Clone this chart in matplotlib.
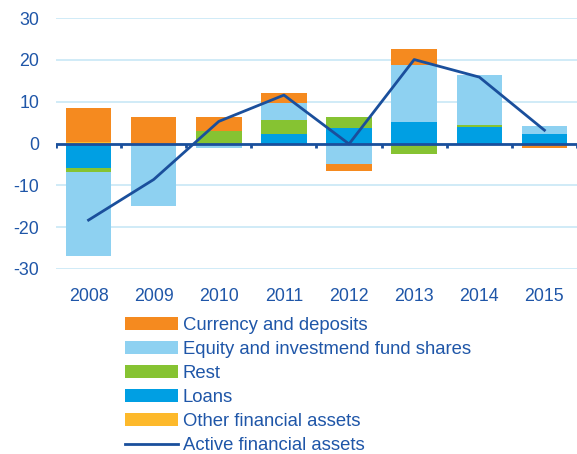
import numpy as np
import matplotlib
matplotlib.use("Agg")
import matplotlib.pyplot as plt

years = ["2008", "2009", "2010", "2011", "2012", "2013", "2014", "2015"]

# stacked components (bottom to top)
other = [0.4, 0.0, 0.0, -0.4, 0.0, 0.0, 0.0, 0.0]
loans = [-5.8, 0.0, 0.0, 2.2, 3.7, 5.1, 3.9, 2.2]
rest = [-1.0, -0.3, 3.0, 3.4, 2.7, -2.5, 0.6, 0.0]
equity = [-20.0, -14.6, -1.0, 4.0, -4.8, 13.7, 11.9, 2.1]
currency = [8.0, 6.4, 3.4, 2.6, -1.7, 3.8, -0.4, -1.0]
active = [-18.3, -8.6, 5.3, 11.6, -0.1, 20.1, 15.9, 3.2]

txt = "#1f56a8"
line_c = "#1a4f9c"
grid_c = "#c8e8f6"

plt.rcParams["font.family"] = ["Liberation Sans", "DejaVu Sans"]
plt.rcParams["axes.unicode_minus"] = False

fig = plt.figure(figsize=(5.77, 4.54), dpi=100)
ax = fig.add_axes([0.097, 0.4075, 0.903, 0.5525])

x = np.arange(len(years))
series = [
    (other, "#fdb92b", "Other financial assets"),
    (loans, "#009fe3", "Loans"),
    (rest, "#86c332", "Rest"),
    (equity, "#8ed1f1", "Equity and investmend fund shares"),
    (currency, "#f58a1f", "Currency and deposits"),
]

pos = np.zeros(len(years))
neg = np.zeros(len(years))
handles = {}
for vals, col, lab in series:
    v = np.array(vals)
    bottom = np.where(v >= 0, pos, neg)
    b = ax.bar(x, v, 0.7, bottom=bottom, color=col, zorder=2, label=lab)
    handles[lab] = b
    pos = pos + np.where(v >= 0, v, 0)
    neg = neg + np.where(v < 0, v, 0)

ax.axhline(0, color=line_c, lw=2, zorder=3)
ax.vlines(np.arange(len(years) + 1) - 0.5, -1.1, 0, color=line_c, lw=2, zorder=3)
ln, = ax.plot(x, active, color=line_c, lw=2, zorder=4, label="Active financial assets")

ax.set_xlim(-0.5, len(years) - 0.5)
ax.set_ylim(-30, 30)
ax.set_yticks(range(-30, 31, 10))
ax.set_xticks(x)
ax.set_xticklabels(years)
ax.grid(axis="y", color=grid_c, lw=1.2, zorder=0)
for s in ax.spines.values():
    s.set_visible(False)
ax.tick_params(axis="both", length=0, colors=txt, labelsize=12.8)
ax.tick_params(axis="y", pad=12)
ax.tick_params(axis="x", pad=14)

order = ["Currency and deposits", "Equity and investmend fund shares", "Rest",
         "Loans", "Other financial assets"]
hs = [handles[k] for k in order] + [ln]
labs = order + ["Active financial assets"]
leg = fig.legend(hs, labs, loc="upper left", bbox_to_anchor=(0.2166, 0.301),
                 frameon=False, fontsize=13.3, handlelength=2.86,
                 handletextpad=0.28, labelspacing=0.38, borderpad=0,
                 borderaxespad=0)
for t in leg.get_texts():
    t.set_color(txt)

fig.savefig("out.png", dpi=100)
